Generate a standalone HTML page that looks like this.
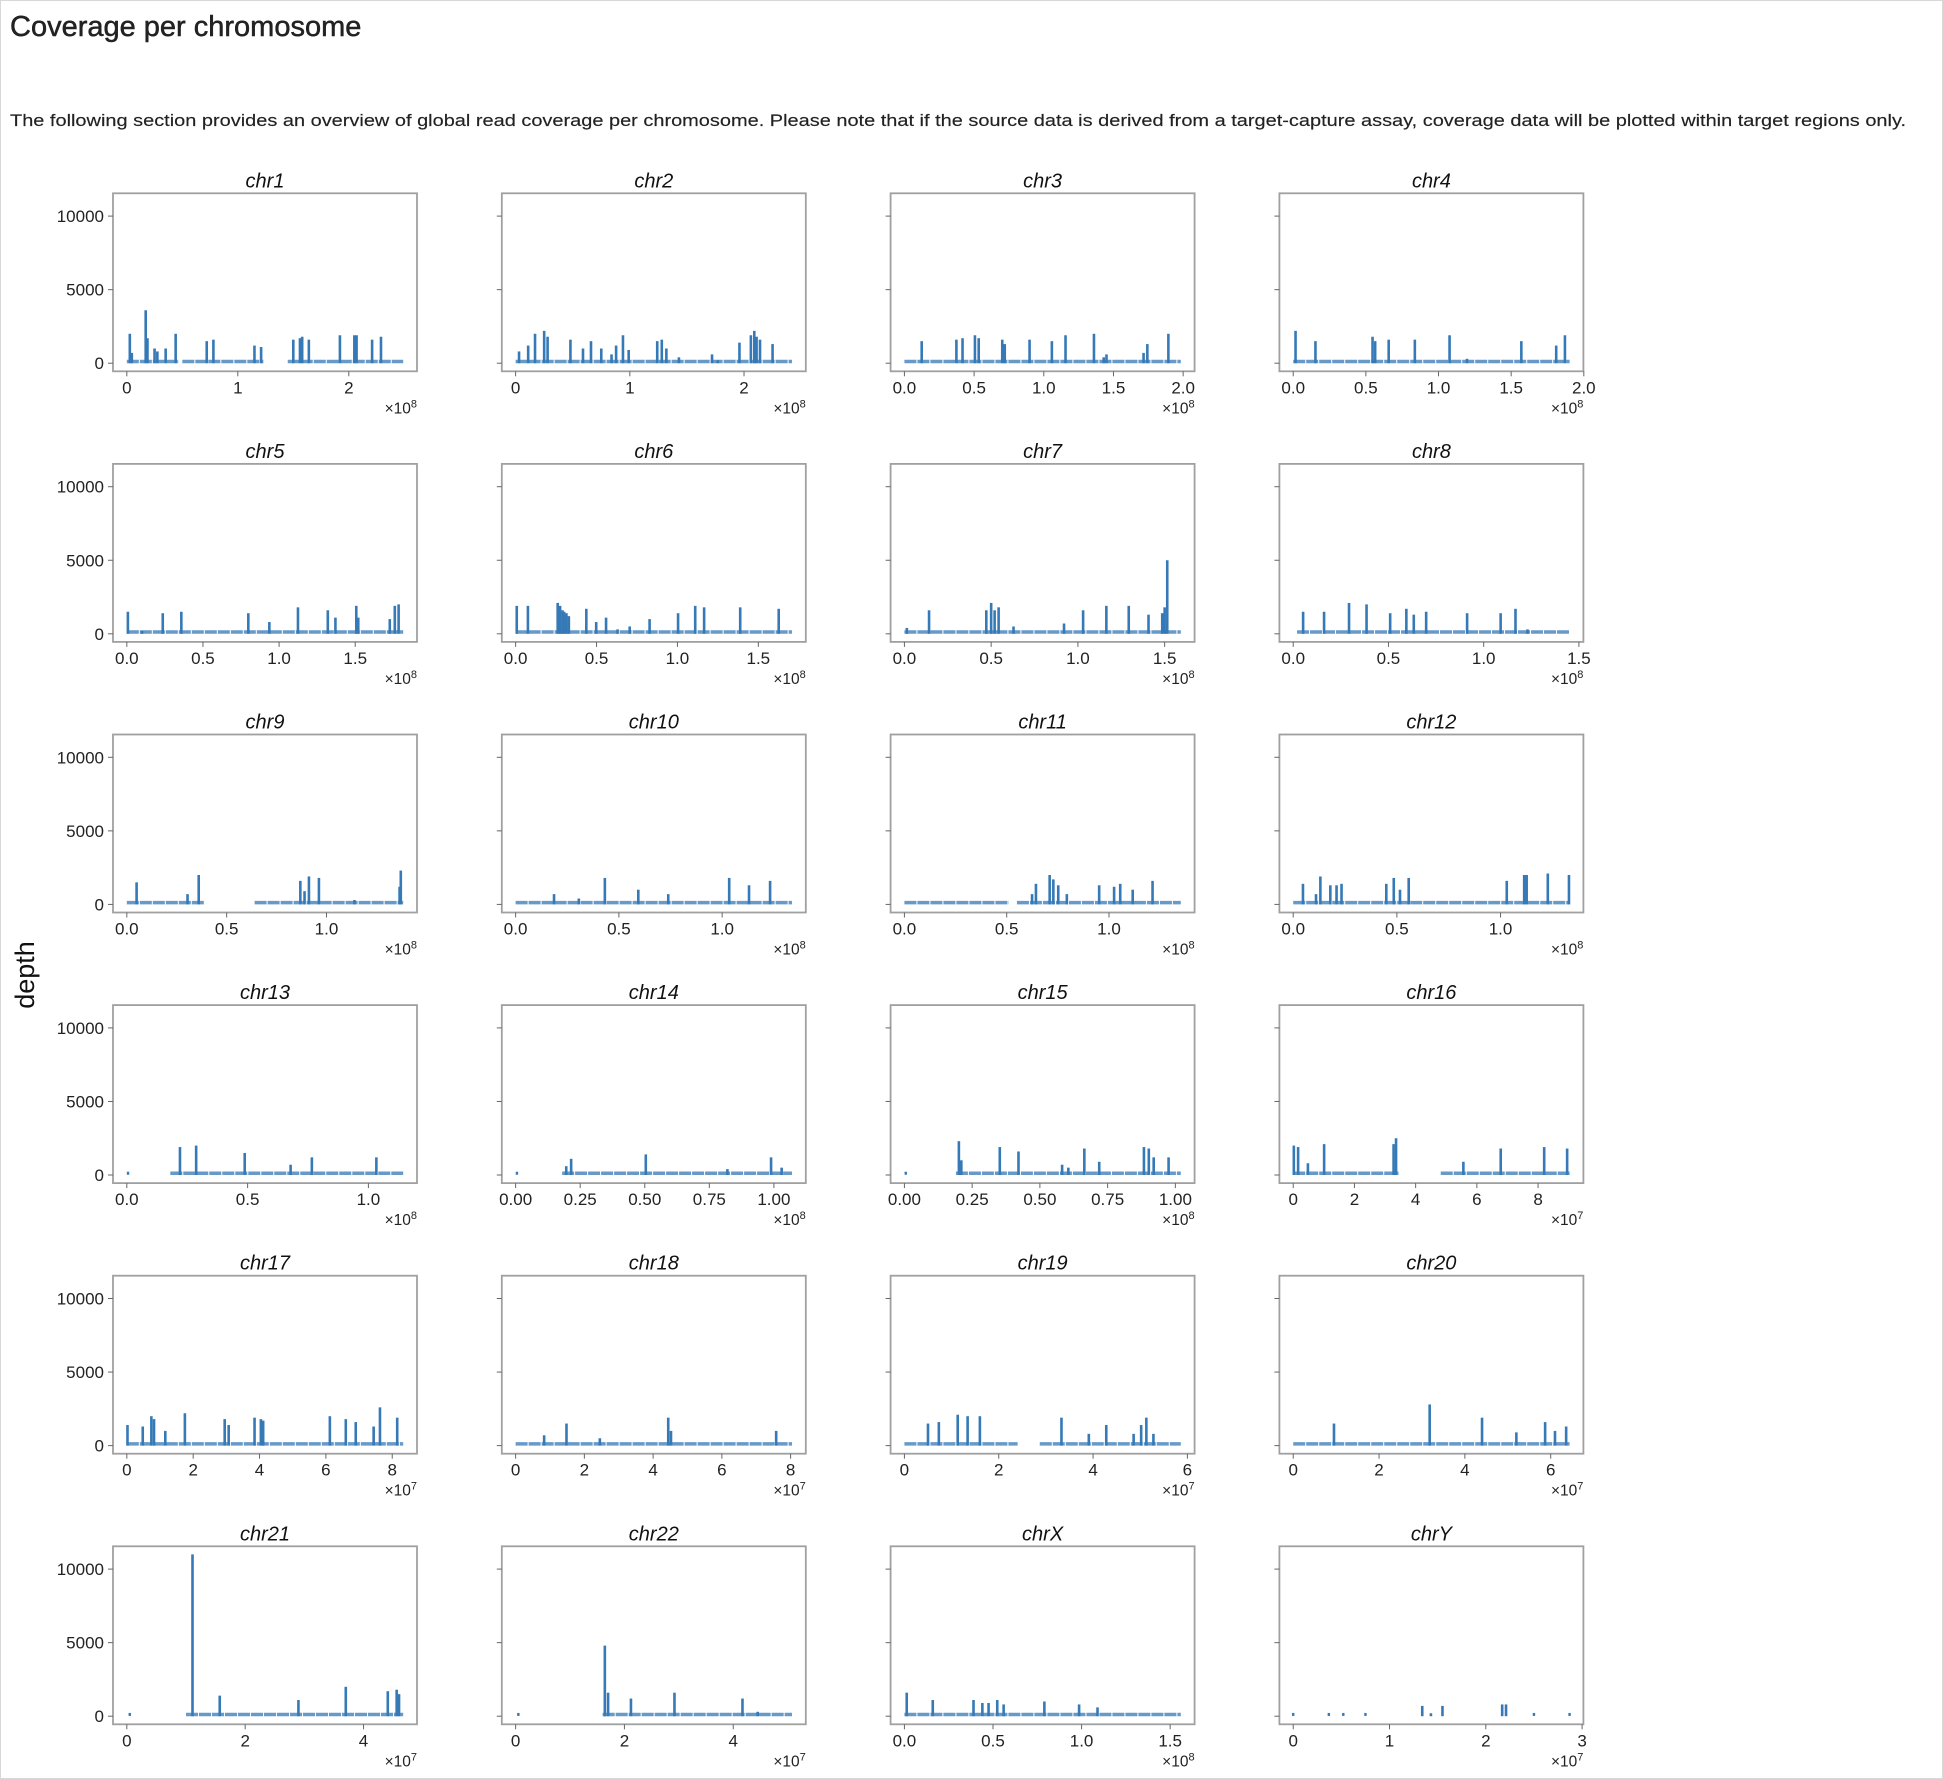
<!DOCTYPE html>
<html><head><meta charset="utf-8"><style>
html,body{margin:0;padding:0;background:#fff;}
svg{display:block;font-family:"Liberation Sans",sans-serif;}
</style></head><body>
<svg id="fig" width="1943" height="1779" xmlns="http://www.w3.org/2000/svg">
<rect x="0.5" y="0.5" width="1942" height="1778" fill="#fff" stroke="#d8d8d8"/>
<text x="10" y="36" font-size="29" fill="#222" stroke="#222" stroke-width="0.5">Coverage per chromosome</text>
<text x="10" y="126" font-size="16.5" fill="#222" stroke="#222" stroke-width="0.15" textLength="1896" lengthAdjust="spacingAndGlyphs">The following section provides an overview of global read coverage per chromosome. Please note that if the source data is derived from a target-capture assay, coverage data will be plotted within target regions only.</text>
<text transform="translate(34,975) rotate(-90)" text-anchor="middle" font-size="27" fill="#111">depth</text>
<g id="panels"></g>
</svg>
<script>
// chromosome names and lengths (Mb)
const chroms = ["chr1","chr2","chr3","chr4","chr5","chr6","chr7","chr8","chr9","chr10","chr11","chr12","chr13","chr14","chr15","chr16","chr17","chr18","chr19","chr20","chr21","chr22","chrX","chrY"];
const lengths = [249,242,198.3,190.2,181.5,170.8,159.3,145.1,138.4,133.8,135.1,133.3,114.4,107,102,90.3,83.3,80.4,58.6,64.4,46.7,50.8,156,28.7];
const exponents = [8,8,8,8,8,8,8,8,8,8,8,8,8,8,8,7,7,7,7,7,7,7,8,7];
const xTicks = [[0,1,2],[0,1,2],[0,0.5,1,1.5,2],[0,0.5,1,1.5,2],[0,0.5,1,1.5],[0,0.5,1,1.5],[0,0.5,1,1.5],[0,0.5,1,1.5],[0,0.5,1],[0,0.5,1],[0,0.5,1],[0,0.5,1],[0,0.5,1],[0,0.25,0.5,0.75,1],[0,0.25,0.5,0.75,1],[0,2,4,6,8],[0,2,4,6,8],[0,2,4,6,8],[0,2,4,6],[0,2,4,6],[0,2,4],[0,2,4],[0,0.5,1,1.5],[0,1,2,3]];
const xTickDecimals = [0,0,1,1,1,1,1,1,1,1,1,1,1,2,2,0,0,0,0,0,0,0,1,0];
const yTicks = [0,5000,10000];
// spikes: [position Mb, depth]
const spikes = [
[[2.7,2000],[4.5,700],[17,3600],[18.6,1700],[25,1000],[27.5,800],[35,1000],[44,2000],[72,1500],[78,1600],[115,1200],[121,1100],[150,1600],[156,1700],[158,1800],[164,1600],[192,1900],[205,1900],[207,1900],[221,1600],[229,1800]],
[[3,800],[11,1200],[17,2000],[25,2200],[28,1800],[48,1600],[59,1000],[66,1500],[75,1000],[84,600],[88,1200],[94,1900],[99,900],[124,1500],[128,1600],[132,1000],[143,400],[172,600],[177,200],[196,1400],[206,1900],[209,2200],[211,1800],[214,1600],[225,1300]],
[[12.4,1500],[37.3,1600],[41.7,1700],[50.6,1900],[53.3,1700],[70.2,1600],[72,1300],[89.8,1600],[105.8,1500],[115.6,1900],[136,2000],[143,400],[145,600],[171.6,700],[174.3,1300],[189.4,2000]],
[[1.6,2200],[15.3,1500],[54.6,1800],[56.4,1500],[65.7,1600],[83.7,1600],[107.6,1900],[119.6,300],[157,1500],[181,1200],[187,1900]],
[[0.7,1500],[10,200],[23.6,1400],[35.8,1500],[79.8,1400],[93.6,800],[112.4,1800],[132,1600],[137,1100],[150.7,1900],[152,1100],[172.7,1000],[176,1900],[178.5,2000]],
[[0.7,1900],[7.6,1900],[26,2100],[27.5,1900],[29,1600],[30,1500],[31.4,1400],[32.9,1200],[43.7,1700],[49.8,800],[55.9,1100],[63,300],[70.5,500],[82.8,1000],[100.4,1400],[111,1900],[116.5,1800],[138.8,1800],[162.6,1700]],
[[1.4,400],[14.2,1600],[47.2,1600],[50,2100],[52,1600],[54.3,1800],[62.9,500],[92,700],[103,1600],[116.4,1900],[129.3,1900],[140.7,1300],[148.6,1400],[150,1800],[151.5,5000]],
[[5.2,1500],[16.2,1500],[29.3,2100],[38.5,2000],[50.9,1400],[59.4,1700],[63.3,1300],[69.8,1500],[91.3,1400],[108.9,1400],[116.7,1700],[123,300]],
[[4.9,1500],[30.4,700],[36,2000],[86.9,1600],[89,900],[91.2,1900],[96.2,1800],[114,300],[136.6,1200],[137.2,2300]],
[[18.6,700],[30.6,400],[43.2,1800],[59.4,1000],[73.9,700],[103.4,1800],[113,1300],[123.2,1600]],
[[62.4,700],[64.3,1400],[71,2000],[72.8,1700],[75.2,1300],[79.4,700],[95.2,1300],[102.5,1200],[105.5,1400],[111.6,1000],[121.3,1600]],
[[4.7,1400],[11,700],[13.1,1900],[17.9,1300],[20.9,1300],[23.3,1400],[44.9,1400],[48.5,1800],[51.5,1000],[55.7,1800],[103,1600],[111.4,2000],[112.6,2000],[122.8,2100],[133,2000]],
[[22,1900],[28.7,2000],[48.8,1500],[67.8,700],[76.6,1200],[103.3,1200]],
[[19.6,600],[21.5,1100],[50.4,1400],[82,400],[98.9,1200],[103,500]],
[[20.1,2300],[21,1000],[35.2,1900],[42.1,1600],[58.2,700],[60.5,500],[66.4,1800],[71.9,900],[88.4,1900],[90.2,1800],[92,1200],[97.5,1200]],
[[0.2,2000],[1.6,1900],[4.8,800],[10.1,2100],[32.8,2100],[33.6,2500],[55.6,900],[67.8,1800],[82,1900],[89.5,1800]],
[[0.2,1400],[4.8,1300],[7.4,2000],[8.2,1800],[11.6,1000],[17.5,2200],[29.5,1800],[30.7,1400],[38.5,1900],[40.4,1800],[41.1,1700],[61.2,2000],[66,1800],[69,1600],[74.4,1300],[76.3,2600],[81.5,1900]],
[[8.3,700],[14.8,1500],[24.5,500],[44.4,1900],[45.2,1000],[75.8,1000]],
[[5,1500],[7.3,1600],[11.3,2100],[13.4,2000],[16,2000],[33.3,1900],[39.1,800],[42.8,1400],[48.6,800],[50.2,1400],[51.3,1900],[52.8,800]],
[[9.5,1500],[31.8,2800],[44,1900],[52,900],[58.7,1600],[61,1000],[63.6,1300]],
[[11.1,11000],[15.7,1400],[29,1100],[37,2000],[44.1,1700],[45.6,1800],[46,1500]],
[[16.4,4800],[17,1600],[21.2,1200],[29.2,1600],[41.7,1200],[44.5,300]],
[[1.3,1600],[16,1100],[39,1100],[44,900],[47.5,900],[52.4,1100],[56,800],[79,1000],[98.6,800],[109,600]],
[[13.4,700],[14.3,200],[15.5,700],[21.7,800],[22.1,800]]
];
// baseline covered segments [start Mb, end Mb]
const baselines = [
[[0,47],[50,123],[145,249]],[[0,242]],[[0,198.3]],[[0,190.2]],[[0,181.5]],[[0,170.8]],[[0,159.3]],[[2,145.1]],
[[0,39],[64,138.4]],[[0,133.8]],[[0,51],[55,135.1]],[[0,133.3]],
[[18,114.4]],[[18,107]],[[19,102]],[[0,34.4],[48.2,90.3]],
[[0,83.3]],[[0,80.4]],[[0,24],[28.7,58.6]],[[0,64.4]],
[[10,46.7]],[[16,50.8]],[[0,156]],[]
];
// isolated sparse points [position Mb]
const dots = [[],[],[],[],[],[],[],[],[],[],[],[],[0.5],[0.5],[0.5],[],[],[],[],[],[0.5],[0.5],[],[0,3.7,5.2,7.5,25,28.7]];

const NS = "http://www.w3.org/2000/svg";
const panelsG = document.getElementById("panels");
const Y_MIN = -550, Y_MAX = 11550;
const PW = 304, PH = 178;
const BLUE = "#3579b6";
function mk(tag, attrs, parent){ const e=document.createElementNS(NS,tag); for(const k in attrs) e.setAttribute(k,attrs[k]); parent.appendChild(e); return e; }

chroms.forEach((name, i) => {
  const col = i % 4, row = Math.floor(i/4);
  const left = 113 + col*388.8, top = 193.3 + row*270.6;
  const L = lengths[i];
  const xs = v => left + (v + 0.05*L)/(1.1*L)*PW;
  const ys = v => top + (Y_MAX - v)/(Y_MAX - Y_MIN)*PH;
  const g = mk("g", {}, panelsG);
  
  
  const t = mk("text", {x:left+PW/2, y:top-6, "text-anchor":"middle", "font-size":"20", "font-style":"italic", fill:"#111"}, g);
  t.textContent = name;
  
  
  // baseline
  baselines[i].forEach(s => {
    const l = mk("line", {x1:xs(s[0]), x2:xs(s[1]), y1:ys(120), y2:ys(120), stroke:BLUE, "stroke-width":"3.5", "stroke-dasharray":"12 1", opacity:"0.75"}, g);
    
    
  });
  dots[i].forEach(p => {
    const d = mk("rect", {x:xs(p)-1.2, y:ys(120)-1.5, width:2.4, height:3, fill:BLUE}, g);
    
    
  });
  spikes[i].forEach(s => {
    const l = mk("line", {x1:xs(s[0]), x2:xs(s[0]), y1:ys(0), y2:ys(s[1]), stroke:BLUE, "stroke-width":"2.6"}, g);
    
    
  });
  const fr = mk("rect", {x:left, y:top, width:PW, height:PH, fill:"none", stroke:"#a0a0a0", "stroke-width":"1.8"}, g);
  
  
  yTicks.forEach(v => {
    mk("line", {x1:left-5, x2:left, y1:ys(v), y2:ys(v), stroke:"#666", "stroke-width":"1"}, g);
    if (col === 0) {
      const tl = mk("text", {x:left-9, y:ys(v)+6, "text-anchor":"end", "font-size":"17", fill:"#222"}, g);
      tl.textContent = String(v);
      
      
    }
  });
  const sc = Math.pow(10, exponents[i]) / 1e6;
  xTicks[i].forEach(v => {
    const px = xs(v*sc);
    mk("line", {x1:px, x2:px, y1:top+PH, y2:top+PH+5, stroke:"#666", "stroke-width":"1"}, g);
    const tl = mk("text", {x:px, y:top+PH+22, "text-anchor":"middle", "font-size":"17", fill:"#222"}, g);
    tl.textContent = v.toFixed(xTickDecimals[i]);
    
    
  });
  const ex = mk("text", {x:left+PW, y:top+PH+42, "text-anchor":"end", "font-size":"15.5", fill:"#222"}, g);
  ex.textContent = "×10";
  const sup = mk("tspan", {dy:"-6", "font-size":"11"}, ex);
  sup.textContent = String(exponents[i]);
  
  
});
</script>
</body></html>
